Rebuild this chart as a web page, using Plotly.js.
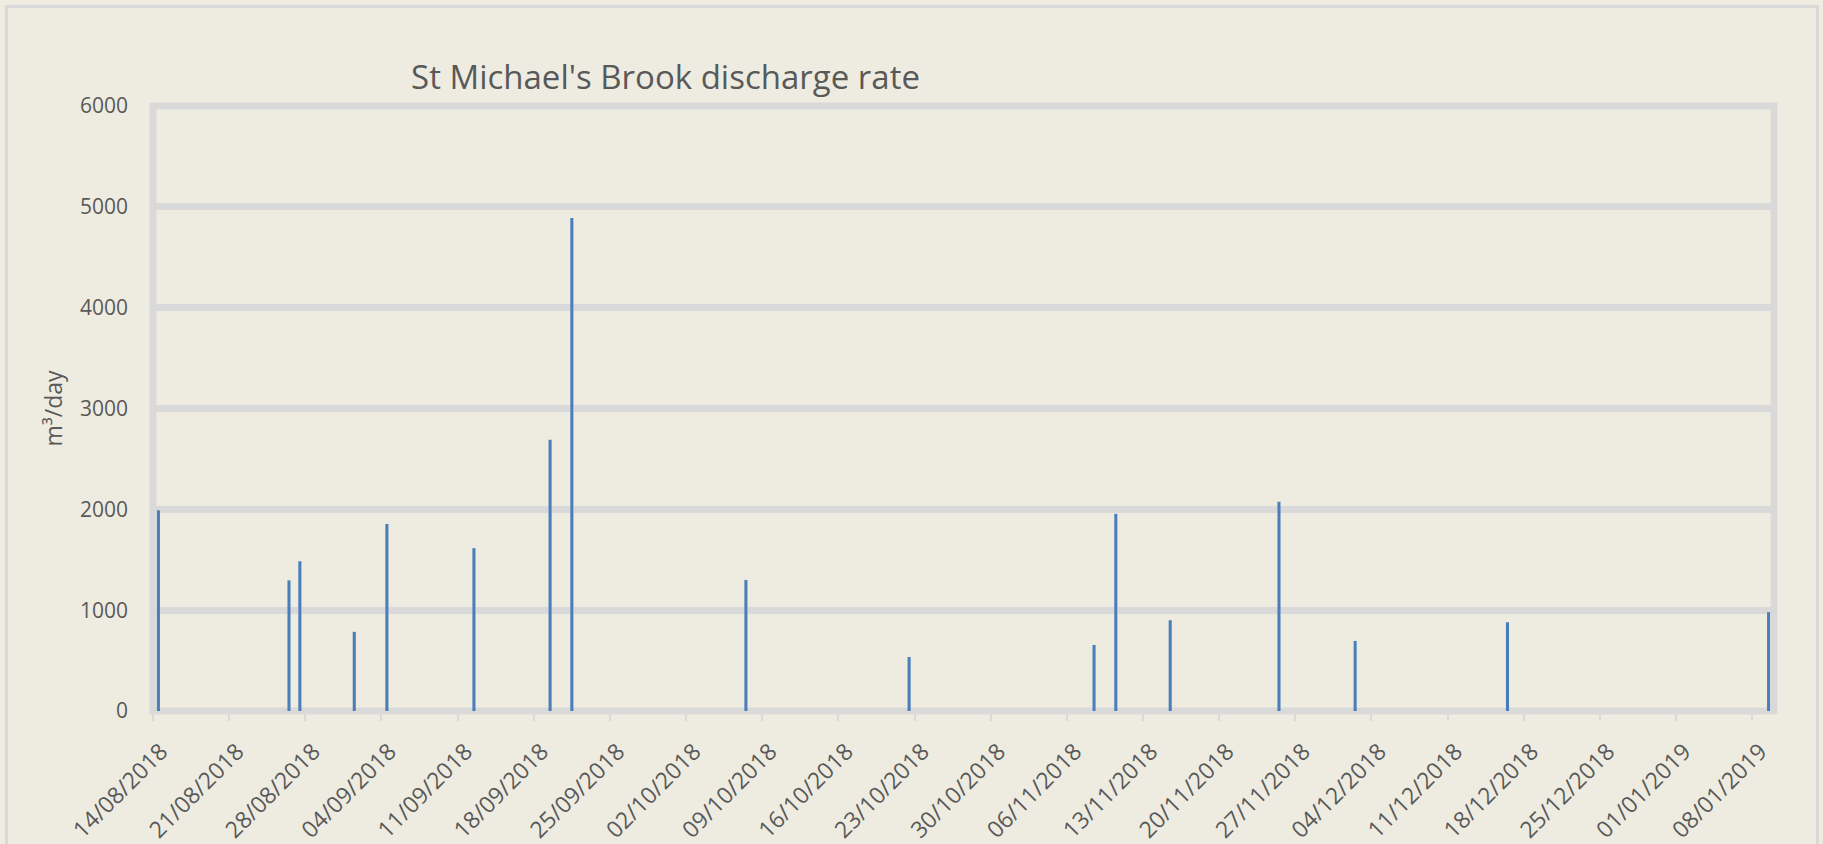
<!DOCTYPE html>
<html>
<head>
<meta charset="utf-8">
<script src="https://cdn.plot.ly/plotly-3.0.1.min.js"></script>
<style>
  html, body { margin: 0; padding: 0; background: #eeece1; }
  #wrap { position: relative; width: 1823px; height: 844px; overflow: hidden; }
  #chart { position: absolute; left: 0; top: 0; width: 1823px; height: 844px; }
  #frame { position: absolute; left: 5px; top: 5px; width: 1808px; height: 850px;
           border: 3px solid #d9d9d9; pointer-events: none; }
</style>
</head>
<body>
<div id="wrap">
  <div id="chart"></div>
  <div id="frame"></div>
</div>
<script>
// Sample dates and discharge rates (m³/day)
const sampleDates = ['2018-08-14','2018-08-26','2018-08-27','2018-09-01','2018-09-04','2018-09-12',
                     '2018-09-19','2018-09-21','2018-10-07','2018-10-22','2018-11-08','2018-11-10',
                     '2018-11-15','2018-11-25','2018-12-02','2018-12-16','2019-01-09'];
const dischargeValues = [1990,1295,1485,785,1855,1615,2690,4890,1300,535,655,1955,900,2075,695,880,980];

// X-axis tick positions and labels
const tickDates = ['2018-08-14','2018-08-21','2018-08-28','2018-09-04','2018-09-11','2018-09-18',
                   '2018-09-25','2018-10-02','2018-10-09','2018-10-16','2018-10-23','2018-10-30',
                   '2018-11-06','2018-11-13','2018-11-20','2018-11-27','2018-12-04','2018-12-11',
                   '2018-12-18','2018-12-25','2019-01-01','2019-01-08'];
const tickLabels = ['14/08/2018','21/08/2018','28/08/2018','04/09/2018','11/09/2018','18/09/2018',
                    '25/09/2018','02/10/2018','09/10/2018','16/10/2018','23/10/2018','30/10/2018',
                    '06/11/2018','13/11/2018','20/11/2018','27/11/2018','04/12/2018','11/12/2018',
                    '18/12/2018','25/12/2018','01/01/2019','08/01/2019'];

const DAY = 86400000;
const textColor = '#595959';
const gridColor = '#d9d9d9';
const fontFam = 'Open Sans, sans-serif';

const trace = {
  type: 'bar',
  x: sampleDates,
  y: dischargeValues,
  xperiod: DAY,
  xperiodalignment: 'middle',
  width: 0.28 * DAY,
  marker: { color: '#4a7ebb', line: { width: 0 } },
  hoverinfo: 'x+y'
};

const layout = {
  width: 1823,
  height: 844,
  paper_bgcolor: '#eeece1',
  plot_bgcolor: '#eeece1',
  margin: { l: 153, r: 49, t: 106, b: 133 },
  showlegend: false,
  title: {
    text: "St Michael's Brook discharge rate",
    font: { family: fontFam, size: 33, color: textColor },
    xref: 'container', x: 665.5 / 1823, xanchor: 'center',
    yref: 'container', y: 1 - 77 / 844, yanchor: 'middle'
  },
  xaxis: {
    type: 'date',
    range: ['2018-08-14', '2019-01-10'],
    tickvals: tickDates,
    ticktext: tickLabels,
    tickangle: -45,
    tickfont: { family: fontFam, size: 23, color: textColor },
    ticklabelstandoff: 8,
    ticklabelshift: 8,
    showgrid: false,
    zeroline: false,
    showline: false,
    ticks: 'outside',
    ticklen: 9,
    tickwidth: 2,
    tickcolor: gridColor,
    fixedrange: true
  },
  yaxis: {
    range: [0, 6000],
    dtick: 1000,
    tick0: 0,
    tickfont: { family: fontFam, size: 21, color: textColor },
    showgrid: true,
    gridcolor: gridColor,
    gridwidth: 7,
    zeroline: false,
    showline: false,
    ticks: '',
    ticklabelstandoff: 24,
    title: { text: 'm³/day', font: { family: fontFam, size: 23, color: textColor }, standoff: 10 },
    fixedrange: true
  },
  shapes: [{
    type: 'rect', xref: 'paper', yref: 'paper', x0: 0, x1: 1, y0: 0, y1: 1,
    line: { color: gridColor, width: 7 }, fillcolor: 'rgba(0,0,0,0)', layer: 'below'
  }]
};

Plotly.newPlot('chart', [trace], layout, { displayModeBar: false, staticPlot: true });
</script>
</body>
</html>
